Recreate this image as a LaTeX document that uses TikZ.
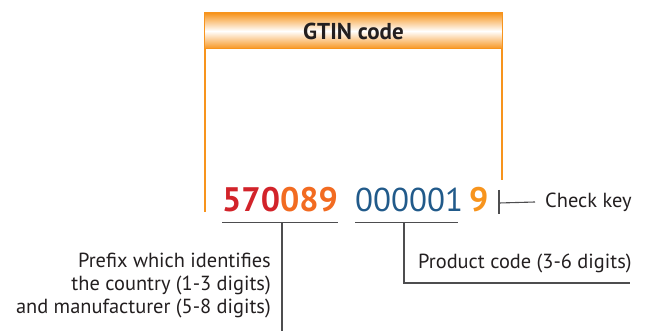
\documentclass[tikz,border=0pt]{standalone}
\usepackage{fontspec}
\setmainfont{PT Sans}
\definecolor{gtinorange}{HTML}{F7941D}
\definecolor{gtinamber}{HTML}{F26B21}
\definecolor{gtinred}{HTML}{D2232A}
\definecolor{gtinblue}{HTML}{215A8A}
\definecolor{ink}{HTML}{231F20}
\definecolor{rulegray}{HTML}{4D4D4F}
\begin{document}
\begin{tikzpicture}[x=1pt,y=-1pt,
  header/.style={draw=gtinorange, line width=1pt, top color=gtinorange,
    bottom color=gtinorange, middle color=white, minimum width=298pt,
    minimum height=36pt, inner sep=0pt, text=ink,
    font=\fontsize{23}{26}\selectfont\bfseries},
  bracket/.style={gtinorange, line width=1.5pt},
  digits/.style={anchor=base west, inner sep=0pt, font=\fontsize{33}{40}\selectfont},
  bolddigits/.style={digits, font=\fontsize{34}{40}\selectfont\bfseries},
  leader/.style={rulegray, line width=1.1pt},
  caption/.style={inner sep=0pt, text=ink, font=\fontsize{20.4}{23}\selectfont}]
\useasboundingbox (0,0) rectangle (646,331);

% header bar with its two orange side rules
\node[header] (hdr) at (353.5,31) {GTIN code};
\coordinate (lbot) at (205,212);
\coordinate (rbot) at (502,180);
\draw[bracket] (hdr.south west -| lbot) -- (lbot);
\draw[bracket] (hdr.south west -| rbot) -- (rbot);

% the code itself
\node[bolddigits] (pfx) at (222,212) {\color{gtinred}570\color{gtinamber}089};
\node[digits, text=gtinblue] (prod) at (355,212) {000001};
\node[bolddigits, text=gtinorange] (chk) at (469,212) {9};

% prefix leader
\coordinate (pl) at (222,222.5);
\coordinate (pr) at (338,222.5);
\coordinate (pm) at (282,222.5);
\coordinate (pend) at (282,331);
\draw[leader] (pl) -- (pr);
\draw[leader] (pm) -- (pend);

% product code leader
\coordinate (ql) at (355,222.5);
\coordinate (qr) at (458,222.5);
\coordinate (qm) at (404,222.5);
\coordinate (qc) at (404,283);
\coordinate (qend) at (630,283);
\draw[leader] (ql) -- (qr);
\draw[leader] (qm) -- (qc) -- (qend);

% check key leader
\coordinate (kt) at (499,190);
\coordinate (kb) at (499,214);
\coordinate (km) at (499,203);
\draw[leader] (kt) -- (kb);

% captions
\node[caption, anchor=west] (ckey) at (545,202) {Check key};
\draw[leader] (km) -- (ckey.west -| 535,0);
\node[caption, anchor=west] (pcode) at (418,263) {Product code (3-6 digits)};
\node[caption, anchor=east, align=right] (ptext) at (271,286)
  {Prefix which identifies\\the country (1-3 digits)\\and manufacturer (5-8 digits)};
\end{tikzpicture}
\end{document}
